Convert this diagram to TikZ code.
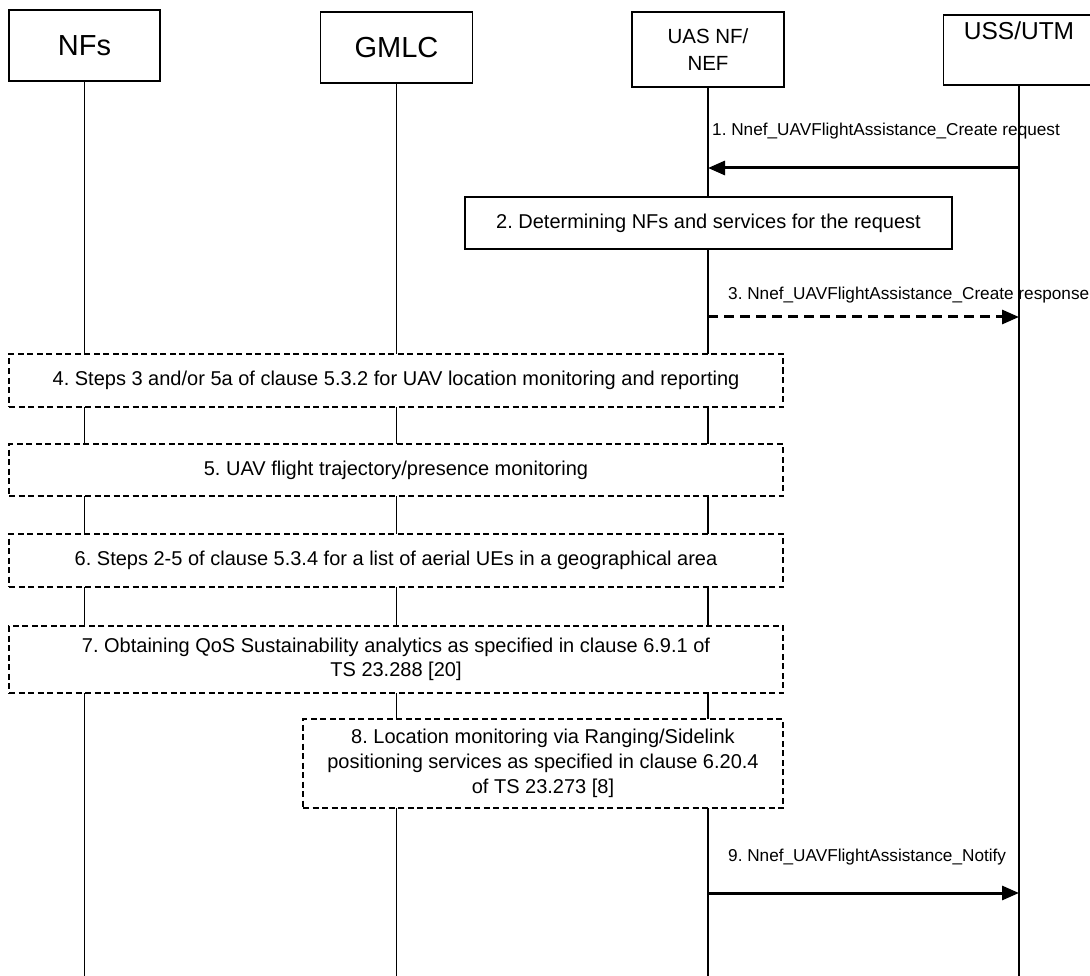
\documentclass[tikz,border=0pt]{standalone}
\usepackage{fontspec}
\setmainfont{Liberation Sans}
\usetikzlibrary{arrows.meta}
\begin{document}
\frenchspacing
\begin{tikzpicture}[x=1pt,y=-1pt,
  hdr/.style={draw, line width=1.2pt, fill=white, inner sep=0pt, align=center},
  life/.style={line width=1.2pt},
  stepbox/.style={draw, line width=1.1pt, fill=white, inner sep=0pt, align=center, font=\fontsize{20}{24}\selectfont},
  dbox/.style={stepbox, dash pattern=on 6pt off 3.5pt},
  msg/.style={line width=3pt, -{Triangle[length=17pt,width=14pt]}},
  dmsg/.style={msg, dash pattern=on 10pt off 6pt},
  mlabel/.style={anchor=west, inner sep=0pt, font=\fontsize{17.2}{20}\selectfont}
]
\useasboundingbox (0,0) rectangle (1090,976);
\fill[white] (0,0) rectangle (1090,976);

% headers
\node[hdr, minimum width=151, minimum height=71, font=\fontsize{29}{33}\selectfont] (nfs) at (84.5,45.5) {NFs};
\node[hdr, minimum width=152, minimum height=71, font=\fontsize{29}{33}\selectfont] (gmlc) at (396.5,47.5) {GMLC};
\node[hdr, minimum width=152, minimum height=75, font=\fontsize{20.5}{27}\selectfont] (uas) at (708,49.5) {UAS NF/\\NEF};
\node[hdr, minimum width=151, text width=151, text height=25, text depth=45, font=\fontsize{24.5}{28}\selectfont] (uss) at (1019,50) {USS/UTM};

% bottom of lifelines
\coordinate (bot) at (0,976);
\draw[life] (nfs.south) -- (nfs.south |- bot);
\draw[life] (gmlc.south) -- (gmlc.south |- bot);
\draw[life] (uas.south) -- (uas.south |- bot);
\draw[life] (uss.south) -- (uss.south |- bot);

% message 1
\coordinate (y1) at (0,168);
\draw[msg] (uss.south |- y1) -- (uas.south |- y1);
\node[mlabel] (l1) at (712,131) {1. Nnef\_UAVFlightAssistance\_Create request};

% step 2
\node[stepbox, minimum width=487, minimum height=52] (s2) at (708.5,223) {2. Determining NFs and services for the request};

% message 3
\coordinate (y3) at (0,317);
\draw[dmsg] (uas.south |- y3) -- (uss.south |- y3);
\node[mlabel] (l3) at (728,295) {3. Nnef\_UAVFlightAssistance\_Create response};

% steps 4-7
\node[dbox, minimum width=774, minimum height=53] (s4) at (396,380.5) {4. Steps 3 and/or 5a of clause 5.3.2 for UAV location monitoring and reporting};
\node[dbox, minimum width=774, minimum height=52] (s5) at (396,470) {5. UAV flight trajectory/presence monitoring};
\node[dbox, minimum width=774, minimum height=53] (s6) at (396,560.5) {6. Steps 2-5 of clause 5.3.4 for a list of aerial UEs in a geographical area};
\node[dbox, minimum width=774, minimum height=67] (s7) at (396,659.5) {7. Obtaining QoS Sustainability analytics as specified in clause 6.9.1 of\\TS 23.288 [20]};

% step 8
\node[dbox, minimum width=480, minimum height=89, font=\fontsize{20}{25}\selectfont] (s8) at (543,763.5) {8. Location monitoring via Ranging/Sidelink\\positioning services as specified in clause 6.20.4\\of TS 23.273 [8]};

% message 9
\coordinate (y9) at (0,893);
\draw[msg] (uas.south |- y9) -- (uss.south |- y9);
\node[mlabel] (l9) at (728,857) {9. Nnef\_UAVFlightAssistance\_Notify};
\end{tikzpicture}
\end{document}
